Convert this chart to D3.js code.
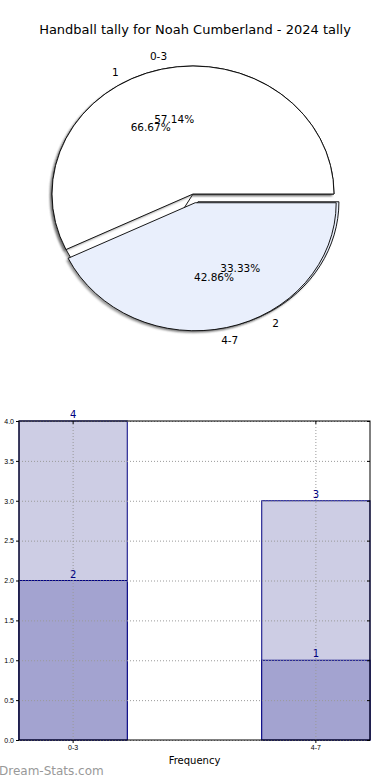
<!DOCTYPE html>
<html>
<head>
<meta charset="utf-8">
<script src="https://cdn.jsdelivr.net/npm/d3@7"></script>
<style>
  body { margin: 0; background: #fff; }
  svg { font-family: 'DejaVu Sans', sans-serif; display: block; }
  .grid line { stroke: #9a9a9a; stroke-dasharray: 1,2; stroke-width: 1; }
  .grid path { display: none; }
  .axis path { display: none; }
  .axis line { stroke: #000; }
  .axis text { font-size: 7px; fill: #000; }
</style>
</head>
<body>
<svg id="chart" width="390" height="780"></svg>
<script>
//pie data (two overlaid pies)
var pieCats = ['0-3', '4-7'],
    pieVals = [4, 3];
var pie2Cats = ['1', '2'],
    pie2Vals = [2, 1];

//bar data
var barCats = ['0-3', '4-7'],
    barTotals = [4, 3],
    barInner = [2, 1];
var yTicks = [0, 0.5, 1, 1.5, 2, 2.5, 3, 3.5, 4];

var svg = d3.select('#chart');

//title
svg.append('text')
    .attr('x', 195).attr('y', 34)
    .attr('text-anchor', 'middle')
    .style('font-size', '13px')
    .text('Handball tally for Noah Cumberland - 2024 tally');

//PIE
var cx = 193, cy = 194, rx = 141, ry = 128, explode = 0.07;
var sliceColors = ['#ffffff', '#e9effc'];

//shadow blur
var defs = svg.append('defs');
defs.append('filter').attr('id', 'blur')
    .attr('x', '-10%').attr('y', '-10%').attr('width', '120%').attr('height', '120%')
    .append('feGaussianBlur').attr('stdDeviation', 0.8);

var pieLayout = d3.pie().sort(null)
    .startAngle(Math.PI / 2)
    .endAngle(Math.PI / 2 - 2 * Math.PI);

var arc = d3.arc().innerRadius(0).outerRadius(1);

function drawPie(cats, vals, explodeIdx) {
    var arcs = pieLayout(vals);
    var total = d3.sum(vals);
    var shadow = svg.append('g')
        .attr('filter', 'url(#blur)')
        .style('opacity', 0.6);
    var g = svg.append('g');
    arcs.forEach(function(d, i) {
        var mid = (d.startAngle + d.endAngle) / 2;
        var e = i === explodeIdx ? explode : 0;
        var ox = e * Math.sin(mid), oy = -e * Math.cos(mid);
        shadow.append('path')
            .attr('transform', 'translate(' + (cx - 2) + ',' + (cy + 2) + ') scale(' + rx + ',' + ry + ') translate(' + ox + ',' + oy + ')')
            .attr('d', arc(d))
            .style('fill', '#555');
        g.append('path')
            .attr('transform', 'translate(' + cx + ',' + cy + ') scale(' + rx + ',' + ry + ') translate(' + ox + ',' + oy + ')')
            .attr('d', arc(d))
            .style('fill', sliceColors[i])
            .style('stroke', '#000')
            .style('stroke-width', 0.9)
            .attr('vector-effect', 'non-scaling-stroke');
    });
    return arcs.map(function(d, i) {
        var mid = (d.startAngle + d.endAngle) / 2;
        var e = i === explodeIdx ? explode : 0;
        return {cat: cats[i], pct: d.value / total * 100, mid: mid, e: e};
    });
}

function pieLabels(items) {
    items.forEach(function(t) {
        var sx = Math.sin(t.mid), sy = -Math.cos(t.mid);
        svg.append('text')
            .attr('x', cx + rx * (1.1 + t.e) * sx)
            .attr('y', cy + ry * (1.1 + t.e) * sy)
            .attr('dy', '0.35em')
            .attr('text-anchor', 'middle')
            .style('font-size', '10.5px')
            .text(t.cat);
        svg.append('text')
            .attr('x', cx + rx * (0.6 * sx + t.e * sx))
            .attr('y', cy + ry * (0.6 * sy + t.e * sy))
            .attr('dy', '0.35em')
            .attr('text-anchor', 'middle')
            .style('font-size', '10.5px')
            .text(d3.format('.2f')(t.pct) + '%');
    });
}

var lab2 = drawPie(pie2Cats, pie2Vals, 1);
var lab1 = drawPie(pieCats, pieVals, 1);
pieLabels(lab1);
pieLabels(lab2);

//BAR CHART
var plotLeft = 19, plotRight = 370, plotTop = 421, plotBottom = 740;
var xScale = d3.scaleBand().domain(barCats).range([plotLeft, plotRight])
    .paddingInner(0.554).paddingOuter(0);
var yScale = d3.scaleLinear().domain([0, 4]).range([plotBottom, plotTop]);

//bars: totals then inner series
svg.append('g').selectAll('rect').data(barTotals).enter().append('rect')
    .attr('x', (d, i) => xScale(barCats[i]))
    .attr('y', d => yScale(d))
    .attr('width', xScale.bandwidth())
    .attr('height', d => plotBottom - yScale(d))
    .style('fill', '#cdcde4')
    .style('stroke', '#000080')
    .style('stroke-width', 1);
svg.append('g').selectAll('rect').data(barInner).enter().append('rect')
    .attr('x', (d, i) => xScale(barCats[i]))
    .attr('y', d => yScale(d))
    .attr('width', xScale.bandwidth())
    .attr('height', d => plotBottom - yScale(d))
    .style('fill', '#a3a3d0')
    .style('stroke', '#000080')
    .style('stroke-width', 1);

//gridlines
svg.append('g').attr('class', 'grid')
    .attr('transform', 'translate(' + plotLeft + ',0)')
    .call(d3.axisLeft(yScale).tickValues(yTicks).tickSize(-(plotRight - plotLeft)).tickFormat(''));
svg.append('g').attr('class', 'grid')
    .attr('transform', 'translate(0,' + plotBottom + ')')
    .call(d3.axisBottom(xScale).tickSize(-(plotBottom - plotTop)).tickFormat(''));

//value labels
function valueLabels(vals) {
    svg.append('g').selectAll('text').data(vals).enter().append('text')
        .attr('x', (d, i) => xScale(barCats[i]) + xScale.bandwidth() / 2)
        .attr('y', d => yScale(d) - 3)
        .attr('text-anchor', 'middle')
        .style('font-size', '10px')
        .style('fill', '#000080')
        .text(d => d);
}
valueLabels(barTotals);
valueLabels(barInner);

//frame
svg.append('rect')
    .attr('x', plotLeft).attr('y', plotTop)
    .attr('width', plotRight - plotLeft).attr('height', plotBottom - plotTop)
    .style('fill', 'none').style('stroke', '#000').style('stroke-width', 1);

//axes
svg.append('g').attr('class', 'axis')
    .attr('transform', 'translate(' + plotLeft + ',0)')
    .call(d3.axisLeft(yScale).tickValues(yTicks).tickFormat(d3.format('.1f')).tickSize(3).tickPadding(2));
svg.append('g').attr('class', 'axis')
    .attr('transform', 'translate(' + plotRight + ',0)')
    .call(d3.axisLeft(yScale).tickValues(yTicks).tickFormat('').tickSize(3));
svg.append('g').attr('class', 'axis')
    .attr('transform', 'translate(0,' + plotBottom + ')')
    .call(d3.axisBottom(xScale).tickSize(3).tickPadding(2));
svg.append('g').attr('class', 'axis')
    .attr('transform', 'translate(0,' + plotTop + ')')
    .call(d3.axisBottom(xScale).tickSize(3).tickFormat(''));

//x axis label
svg.append('text')
    .attr('x', (plotLeft + plotRight) / 2).attr('y', 764)
    .attr('text-anchor', 'middle')
    .style('font-size', '10px')
    .text('Frequency');

//watermark
svg.append('text')
    .attr('x', -1).attr('y', 775)
    .style('font-size', '12px')
    .style('fill', '#999')
    .text('Dream-Stats.com');
</script>
</body>
</html>
